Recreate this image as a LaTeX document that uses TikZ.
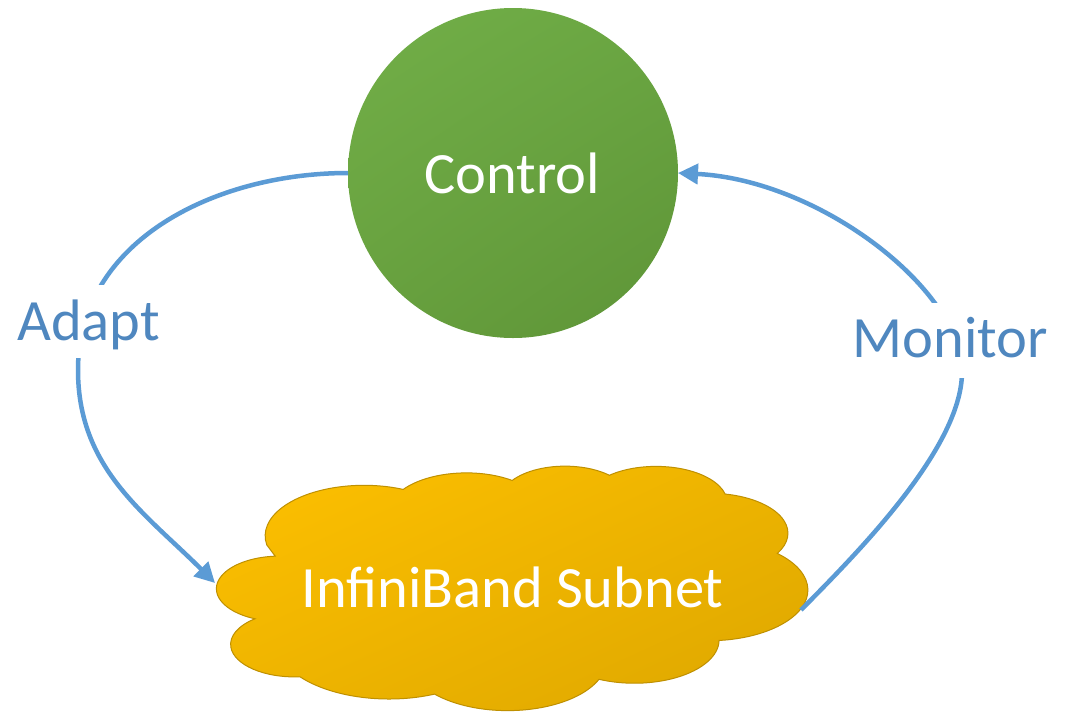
\documentclass[tikz,border=0pt]{standalone}
\usepackage{fontspec}
\setmainfont{Carlito}
\usetikzlibrary{arrows.meta,shadings}

\definecolor{flowblue}{HTML}{5B9BD5}
\definecolor{labelblue}{HTML}{4F87BF}
\definecolor{cloudedge}{HTML}{BF9000}
\definecolor{hubUL}{RGB}{114,175,72}
\definecolor{hubUR}{RGB}{106,166,66}
\definecolor{hubLL}{RGB}{103,160,62}
\definecolor{hubLR}{RGB}{94,148,55}
\definecolor{cloudUL}{RGB}{255,193,0}
\definecolor{cloudUR}{RGB}{236,179,0}
\definecolor{cloudLL}{RGB}{238,180,0}
\definecolor{cloudLR}{RGB}{220,166,0}

\tikzset{
  bigtext/.style={font=\fontsize{58.5}{62}\selectfont},
  flow/.style={draw=flowblue, line width=4.5pt,
    -{Triangle[length=20pt,width=20pt]}},
  looplabel/.style={bigtext, text=labelblue, fill=white, anchor=base,
    inner xsep=4pt, inner ysep=0pt},
  hub/.style={circle, minimum size=330pt, inner sep=0pt, outer sep=0pt,
    upper left=hubUL, upper right=hubUR, lower left=hubLL, lower right=hubLR},
  cloudfill/.style={draw=cloudedge, line width=1pt,
    upper left=cloudUL, upper right=cloudUR, lower left=cloudLL, lower right=cloudLR},
}

\begin{document}
\begin{tikzpicture}[x=1pt, y=1pt]
  \useasboundingbox (0,0) rectangle (1065,-713);
  \fill[white] (0,0) rectangle (1065,-713);

  % cloud outline built from elliptical arcs, in a 432 x 432 frame
  \begin{scope}[shift={(209.7,-466)}, x=1.4646pt, y=-0.5498pt]
    \shadedraw[cloudfill] (39.00,143.70)
      arc[start angle=-190.4875, delta angle=123.7805, x radius=67.53, y radius=91.90]
      arc[start angle=-144.1024, delta angle=89.9452,  x radius=53.33, y radius=72.67]
      arc[start angle=-145.8079, delta angle=99.7230,  x radius=43.65, y radius=59.45]
      arc[start angle=-130.9861, delta angle=117.2417, x radius=48.57, y radius=65.95]
      arc[start angle=-78.7089,  delta angle=109.0269, x radius=53.33, y radius=72.73]
      arc[start angle=-46.2673,  delta angle=130.2690, x radius=67.75, y radius=92.20]
      arc[start angle=0.6250,    delta angle=114.0333, x radius=57.85, y radius=78.67]
      arc[start angle=22.4516,   delta angle=115.1726, x radius=67.52, y radius=92.15]
      arc[start angle=66.2426,   delta angle=75.7110,  x radius=77.20, y radius=105.43]
      arc[start angle=-274.9421, delta angle=146.7356, x radius=43.60, y radius=59.18]
      arc[start angle=-246.8285, delta angle=152.5303, x radius=43.45, y radius=59.45]
      -- cycle;
  \end{scope}

  \node[bigtext, text=white, anchor=base] (subnet) at (512.5,-607) {InfiniBand Subnet};
  \coordinate (subnetW) at (215,-583);
  \coordinate (subnetE) at (801,-610);

  % controller
  \node[hub, shade] (control) at (513,-173) {};
  \node[bigtext, text=white, anchor=base] (controltext) at (512,-193) {Control};

  % feedback loop
  \draw[flow] (control.west) to[out=180, in=90] (78,-370)
                              to[out=-90, in=135] (subnetW);
  \coordinate (turn) at (962,-372);
  \draw[flow] (subnetE) .. controls (850,-560) and (962,-450) .. (turn)
                        .. controls (962,-290) and (820,-180) .. (control.east);

  \node[looplabel, text height=55pt, text depth=18pt] (adapt) at (88.5,-340) {Adapt};
  \node[looplabel, text height=54pt, text depth=21pt] (monitor) at (950.5,-357) {Monitor};
\end{tikzpicture}
\end{document}
